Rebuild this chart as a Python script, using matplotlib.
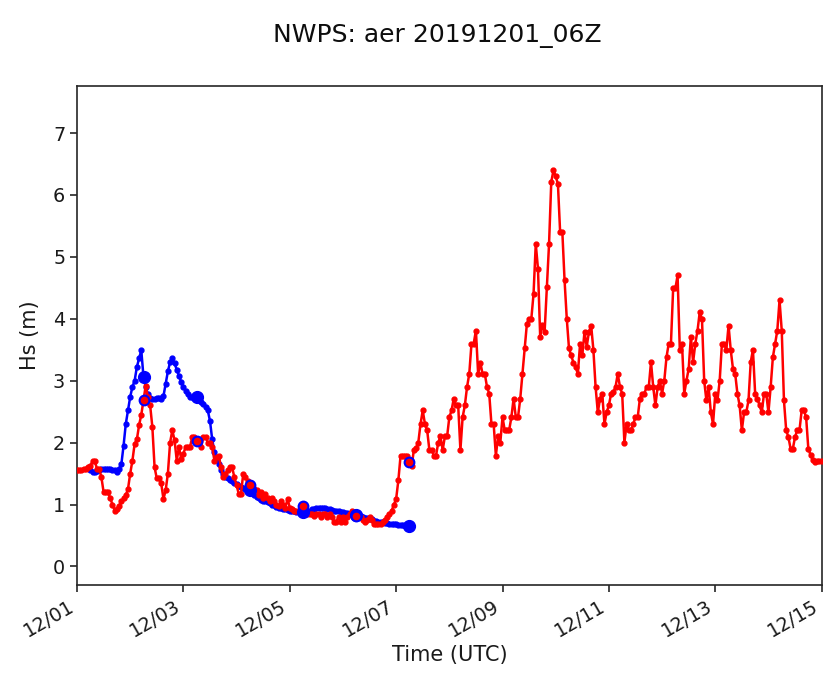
import numpy as np
import pandas as pd
import matplotlib
matplotlib.use("Agg")
import matplotlib.pyplot as plt
import matplotlib.dates as mdates

# buoy obs, hourly from 2019-12-01 00Z
obs_start = "2019-12-01 00:00"
hs_obs = [
    1.55, 1.55, 1.55, 1.58, 1.58, 1.60, 1.62, 1.70, 1.70, 1.58, 1.58, 1.44, 1.20, 1.20, 1.20, 1.10, 1.00, 0.90, 0.92, 0.98, 1.05, 1.10, 1.15, 1.25,
    1.50, 1.71, 1.98, 2.05, 2.28, 2.45, 2.68, 2.92, 2.73, 2.60, 2.25, 1.60, 1.42, 1.42, 1.34, 1.09, 1.23, 1.50, 2.00, 2.20, 2.04, 1.71, 1.93, 1.74,
    1.82, 1.93, 1.93, 1.93, 2.09, 2.09, 2.02, 2.02, 1.93, 2.09, 2.09, 2.00, 2.00, 1.93, 1.71, 1.76, 1.78, 1.60, 1.44, 1.50, 1.55, 1.60, 1.60, 1.44,
    1.31, 1.17, 1.17, 1.50, 1.44, 1.38, 1.31, 1.28, 1.25, 1.23, 1.15, 1.20, 1.10, 1.17, 1.10, 1.05, 1.10, 1.05, 1.00, 0.97, 1.05, 1.00, 0.95, 1.09,
    0.95, 0.93, 0.90, 0.90, 0.90, 0.92, 0.97, 0.90, 0.85, 0.85, 0.85, 0.82, 0.85, 0.85, 0.80, 0.85, 0.85, 0.80, 0.85, 0.80, 0.72, 0.72, 0.80, 0.72,
    0.80, 0.72, 0.80, 0.85, 0.90, 0.85, 0.82, 0.80, 0.80, 0.75, 0.72, 0.75, 0.80, 0.75, 0.69, 0.69, 0.69, 0.69, 0.72, 0.75, 0.80, 0.85, 0.90, 1.00,
    1.09, 1.39, 1.79, 1.79, 1.79, 1.79, 1.68, 1.62, 1.88, 1.91, 2.00, 2.30, 2.52, 2.30, 2.20, 1.88, 1.88, 1.79, 1.79, 2.00, 2.10, 1.88, 2.10, 2.10,
    2.41, 2.52, 2.71, 2.60, 2.60, 1.88, 2.41, 2.60, 2.90, 3.11, 3.60, 3.60, 3.81, 3.11, 3.29, 3.11, 3.11, 2.90, 2.79, 2.30, 2.30, 1.79, 2.10, 2.00,
    2.41, 2.20, 2.20, 2.20, 2.41, 2.71, 2.41, 2.41, 2.71, 3.11, 3.52, 3.92, 4.00, 4.00, 4.40, 5.21, 4.81, 3.71, 3.90, 3.79, 4.51, 5.21, 6.21, 6.40,
    6.30, 6.18, 5.40, 5.40, 4.62, 4.00, 3.52, 3.41, 3.29, 3.22, 3.11, 3.60, 3.41, 3.79, 3.55, 3.79, 3.89, 3.50, 2.90, 2.49, 2.71, 2.79, 2.30, 2.49,
    2.60, 2.79, 2.81, 2.90, 3.11, 2.90, 2.79, 2.00, 2.30, 2.20, 2.20, 2.30, 2.41, 2.41, 2.71, 2.79, 2.79, 2.90, 2.90, 3.30, 2.90, 2.60, 2.90, 3.00,
    2.79, 3.00, 3.38, 3.60, 3.60, 4.49, 4.49, 4.70, 3.50, 3.60, 2.79, 3.00, 3.19, 3.71, 3.30, 3.60, 3.81, 4.11, 4.00, 3.00, 2.68, 2.90, 2.49, 2.30,
    2.79, 2.68, 3.00, 3.60, 3.60, 3.50, 3.89, 3.49, 3.19, 3.11, 2.79, 2.60, 2.20, 2.49, 2.49, 2.68, 3.30, 3.50, 2.79, 2.71, 2.60, 2.49, 2.79, 2.79,
    2.49, 2.90, 3.38, 3.60, 3.81, 4.30, 3.81, 2.68, 2.20, 2.09, 1.90, 1.90, 2.09, 2.20, 2.20, 2.52, 2.52, 2.41, 1.90, 1.80, 1.72, 1.69, 1.70, 1.70,
    1.70,
]

# NWPS model run 20191201_06Z, hourly
mod_start = "2019-12-01 06:00"
hs_mod = [
    1.55, 1.53, 1.52, 1.54, 1.56, 1.57, 1.58, 1.58, 1.57, 1.57, 1.56, 1.55, 1.53, 1.58, 1.65, 1.95, 2.30, 2.52,
    2.74, 2.90, 3.00, 3.22, 3.36, 3.49, 3.06, 2.90, 2.78, 2.72, 2.71, 2.71, 2.72, 2.72, 2.71, 2.75, 2.95, 3.15, 3.30, 3.36, 3.28, 3.18, 3.08, 2.98,
    2.90, 2.84, 2.78, 2.74, 2.73, 2.74, 2.73, 2.70, 2.65, 2.62, 2.58, 2.52, 2.35, 2.05, 1.85, 1.72, 1.65, 1.55, 1.50, 1.45, 1.42, 1.40, 1.38, 1.35,
    1.33, 1.30, 1.28, 1.27, 1.25, 1.24, 1.23, 1.18, 1.15, 1.12, 1.10, 1.08, 1.06, 1.05, 1.04, 1.02, 1.00, 0.99, 0.96, 0.95, 0.94, 0.93, 0.92, 0.91,
    0.90, 0.90, 0.89, 0.88, 0.88, 0.88, 0.88, 0.88, 0.89, 0.90, 0.92, 0.93, 0.94, 0.95, 0.95, 0.95, 0.94, 0.93, 0.92, 0.91, 0.90, 0.90, 0.89, 0.88,
    0.88, 0.87, 0.86, 0.85, 0.84, 0.83, 0.83, 0.82, 0.81, 0.80, 0.79, 0.78, 0.77, 0.76, 0.74, 0.73, 0.72, 0.71, 0.71, 0.70, 0.70, 0.69, 0.69, 0.68,
    0.68, 0.67, 0.67, 0.67, 0.66, 0.66, 0.66,
]

t_obs = pd.date_range(obs_start, periods=len(hs_obs), freq="h")
t_mod = pd.date_range(mod_start, periods=len(hs_mod), freq="h")
hs_obs = np.array(hs_obs)
hs_mod = np.array(hs_mod)

# daily match-up points (every 24 h from 12/02 06Z)
i_mod = np.arange(24, len(hs_mod), 24)
t_match = t_mod[i_mod]
i_obs = np.searchsorted(t_obs, t_match)

fig = plt.figure(figsize=(8.39, 6.81), dpi=100)
ax = fig.add_axes([0.0918, 0.141, 0.8875, 0.7327])

ax.plot(t_mod, hs_mod, '-o', color='blue', lw=1.8, ms=3.5, zorder=2)
ax.plot(t_obs, hs_obs, '-o', color='red', lw=1.8, ms=3.5, zorder=3)
ax.plot(t_match, hs_mod[i_mod], 'o', color='blue', ms=8.5, zorder=4)
ax.plot(t_match, hs_obs[i_obs], 'o', color='red', mec='blue', mew=1.5, ms=7, zorder=5)

ax.set_xlim(pd.Timestamp("2019-12-01"), pd.Timestamp("2019-12-15"))
ax.set_ylim(-0.3, 7.76)
ax.xaxis.set_major_locator(mdates.DayLocator(interval=2))
ax.xaxis.set_major_formatter(mdates.DateFormatter('%m/%d'))
for lab in ax.get_xticklabels():
    lab.set_rotation(30)
    lab.set_ha('right')

ax.tick_params(labelsize=13.8, length=5, width=1.2, color='0.15', labelcolor='0.1')
for s in ax.spines.values():
    s.set_color('0.15')
    s.set_linewidth(1.2)

ax.set_xlabel('Time (UTC)', fontsize=15, color='0.1', labelpad=3)
ax.set_ylabel('Hs (m)', fontsize=15, color='0.1', labelpad=9)
fig.suptitle('NWPS: aer 20191201_06Z', x=0.521, y=0.965, fontsize=18, color='0.05')

fig.savefig('out.png', dpi=100)
